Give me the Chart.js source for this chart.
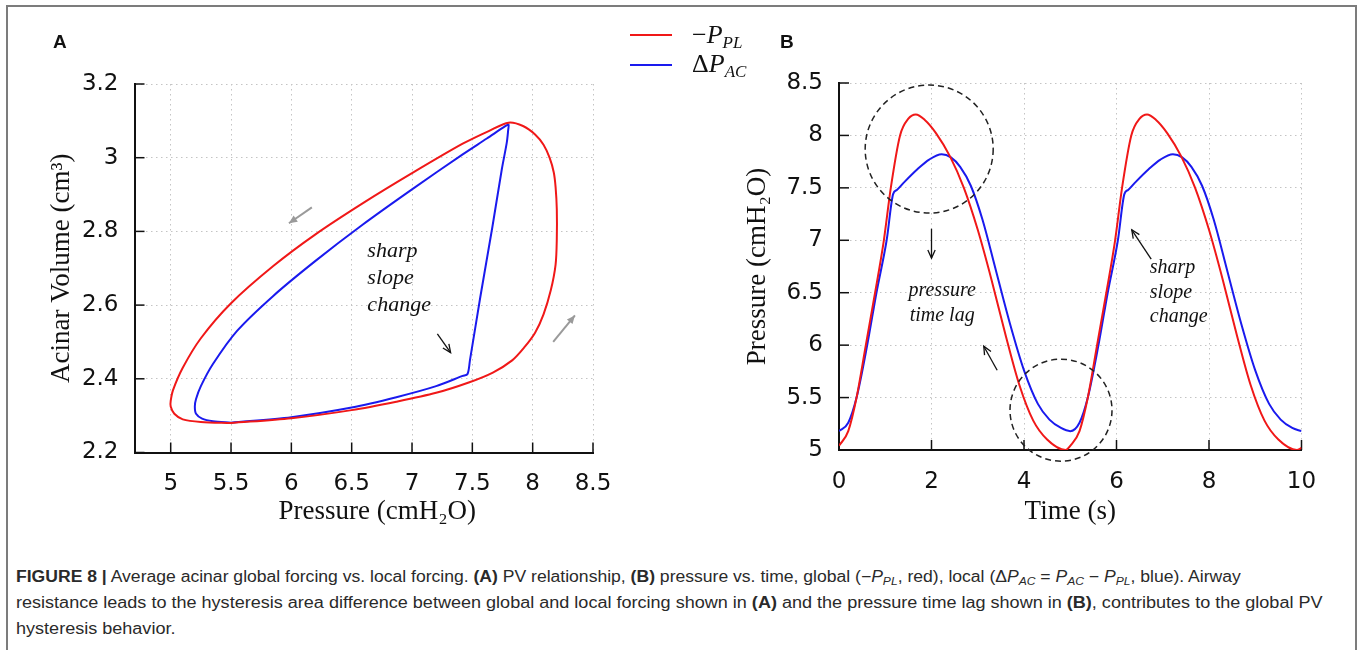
<!DOCTYPE html>
<html>
<head>
<meta charset="utf-8">
<script src="https://cdn.jsdelivr.net/npm/chart.js@4.4.1/dist/chart.umd.min.js"></script>
<style>
  html, body { margin: 0; padding: 0; background: #fff; }
  body { width: 1360px; height: 650px; position: relative; overflow: hidden; font-family: "Liberation Sans", Arial, sans-serif; }
  #frame { position: absolute; left: 6px; top: 5px; width: 1347px; height: 700px; border: 2px solid #7c7c7c; border-bottom: none; }
  canvas { position: absolute; top: 0; }
  #chartA { left: 0; }
  #chartB { left: 680px; }
  .panel { position: absolute; font-weight: bold; font-size: 19px; color: #111; line-height: 20px; }
  .swatch { position: absolute; width: 42px; height: 2px; }
  .leg { position: absolute; font-family: "Liberation Serif", serif; font-size: 26px; line-height: 30px; color: #111; white-space: nowrap; }
  .leg sub { font-size: 17px; vertical-align: -5px; }
  #caption { position: absolute; left: 16px; top: 564px; color: #2a2a2a; font-size: 16px; }
  #caption .cl { white-space: nowrap; line-height: 26px; height: 26px; transform-origin: 0 50%; }
  #caption sub { font-size: 11px; vertical-align: -3px; }
</style>
</head>
<body>
<div id="frame"></div>
<canvas id="chartA" width="680" height="540"></canvas>
<canvas id="chartB" width="680" height="540"></canvas>
<div class="panel" style="left:53px; top:32px;">A</div>
<div class="panel" style="left:780px; top:32px;">B</div>
<div class="swatch" style="left:630px; top:34px; background:#f01818;"></div>
<div class="swatch" style="left:630px; top:64px; background:#1a1aee;"></div>
<div class="leg" style="left:692px; top:20px;">−<i>P<sub>PL</sub></i></div>
<div class="leg" style="left:692px; top:49px;">Δ<i>P<sub>AC</sub></i></div>
<div id="caption">
  <div class="cl"><b>FIGURE 8 |</b> Average acinar global forcing vs. local forcing. <b>(A)</b> PV relationship, <b>(B)</b> pressure vs. time, global (−<i>P<sub>PL</sub></i>, red), local (Δ<i>P<sub>AC</sub></i> = <i>P<sub>AC</sub></i> − <i>P<sub>PL</sub></i>, blue). Airway</div>
  <div class="cl">resistance leads to the hysteresis area difference between global and local forcing shown in <b>(A)</b> and the pressure time lag shown in <b>(B)</b>, contributes to the global PV</div>
  <div class="cl">hysteresis behavior.</div>
</div>
<script>
// Panel A: PV loops (pressure vs acinar volume), traced from the bottom going round
const pvPressureGlobal = [5.5, 6.0, 6.5, 6.87, 7.2, 7.47, 7.67, 7.83, 7.93, 8.02, 8.09, 8.15, 8.19, 8.2, 8.2, 8.19, 8.175, 8.14, 8.09, 8.02, 7.92, 7.8, 7.64, 7.42, 7.0, 6.6, 6.2, 5.85, 5.5, 5.25, 5.1, 5.02, 5.0, 5.0, 5.03, 5.1, 5.25, 5.5];
const pvVolumeGlobal = [2.28, 2.293, 2.315, 2.338, 2.362, 2.39, 2.417, 2.45, 2.485, 2.525, 2.575, 2.64, 2.71, 2.78, 2.86, 2.92, 2.96, 3.0, 3.035, 3.063, 3.086, 3.095, 3.073, 3.038, 2.958, 2.878, 2.792, 2.706, 2.605, 2.51, 2.43, 2.37, 2.34, 2.325, 2.305, 2.29, 2.283, 2.28];
const pvPressureLocal = [5.5, 6.0, 6.5, 6.87, 7.2, 7.42, 7.46, 7.48, 7.565, 7.665, 7.745, 7.785, 7.797, 7.8, 7.77, 7.62, 7.42, 7.0, 6.59, 6.2, 5.85, 5.55, 5.35, 5.25, 5.21, 5.2, 5.21, 5.26, 5.35, 5.5];
const pvVolumeLocal = [2.281, 2.296, 2.322, 2.35, 2.38, 2.408, 2.413, 2.45, 2.62, 2.81, 2.97, 3.04, 3.075, 3.09, 3.085, 3.052, 3.009, 2.914, 2.818, 2.72, 2.625, 2.53, 2.44, 2.38, 2.345, 2.325, 2.305, 2.292, 2.285, 2.281];
const pvPressureTicks = [5, 5.5, 6, 6.5, 7, 7.5, 8, 8.5];
const pvVolumeTicks = [2.2, 2.4, 2.6, 2.8, 3, 3.2];

// Panel B: pressure vs time
const timeGlobal = [0, 0.2, 0.38, 0.58, 0.78, 0.97, 1.12, 1.32, 1.5, 1.66, 1.85, 2.1, 2.4, 2.7, 3.0, 3.3, 3.6, 3.9, 4.2, 4.5, 4.9, 5.0, 5.2, 5.38, 5.58, 5.78, 5.97, 6.12, 6.32, 6.5, 6.66, 6.85, 7.1, 7.4, 7.7, 8.0, 8.3, 8.6, 8.9, 9.2, 9.5, 9.9, 10];
const pressureGlobal = [5.04, 5.18, 5.5, 6.0, 6.5, 7.0, 7.5, 8.0, 8.16, 8.2, 8.15, 8.02, 7.8, 7.5, 7.1, 6.62, 6.1, 5.62, 5.28, 5.1, 5.0, 5.04, 5.18, 5.5, 6.0, 6.5, 7.0, 7.5, 8.0, 8.16, 8.2, 8.15, 8.02, 7.8, 7.5, 7.1, 6.62, 6.1, 5.62, 5.28, 5.1, 5.0, 5.02];
const timeLocal = [0, 0.2, 0.38, 0.61, 0.81, 1.03, 1.17, 1.25, 1.4, 1.7, 1.95, 2.22, 2.42, 2.62, 2.85, 3.1, 3.4, 3.7, 4.0, 4.3, 4.55, 4.8, 5.0, 5.2, 5.38, 5.61, 5.81, 6.03, 6.17, 6.25, 6.4, 6.7, 6.95, 7.22, 7.42, 7.62, 7.85, 8.1, 8.4, 8.7, 9.0, 9.3, 9.55, 9.8, 10];
const pressureLocal = [5.18, 5.26, 5.5, 6.0, 6.5, 7.0, 7.44, 7.48, 7.55, 7.68, 7.77, 7.82, 7.79, 7.7, 7.52, 7.2, 6.7, 6.2, 5.76, 5.44, 5.29, 5.21, 5.18, 5.26, 5.5, 6.0, 6.5, 7.0, 7.44, 7.48, 7.55, 7.68, 7.77, 7.82, 7.79, 7.7, 7.52, 7.2, 6.7, 6.2, 5.76, 5.44, 5.29, 5.21, 5.18];
const timeTicks = [0, 2, 4, 6, 8, 10];
const pressureTicks = [5, 5.5, 6, 6.5, 7, 7.5, 8, 8.5];

const seriesNames = ['−P_PL', 'ΔP_AC'];
const RED = '#f01818';
const BLUE = '#1a1aee';

function points(xs, ys) {
    return xs.map((v, i) => ({ x: v, y: ys[i] }));
}

function drawArrow(ctx, x1, y1, x2, y2, a) {
    const ang = Math.atan2(y2 - y1, x2 - x1);
    const h = a.head;
    ctx.strokeStyle = a.color;
    ctx.fillStyle = a.color;
    ctx.lineWidth = a.width;
    ctx.beginPath();
    ctx.moveTo(x1, y1);
    ctx.lineTo(x2, y2);
    ctx.stroke();
    ctx.beginPath();
    ctx.moveTo(x2 - h * Math.cos(ang - 0.42), y2 - h * Math.sin(ang - 0.42));
    ctx.lineTo(x2, y2);
    ctx.lineTo(x2 - h * Math.cos(ang + 0.42), y2 - h * Math.sin(ang + 0.42));
    if (a.filled) {
        ctx.closePath();
        ctx.fill();
    } else {
        ctx.stroke();
    }
}

// Inward tick marks, gnuplot style
const inwardTicks = {
    id: 'inwardTicks',
    beforeDatasetsDraw(chart) {
        const { ctx, chartArea, scales: { x, y } } = chart;
        ctx.save();
        ctx.strokeStyle = '#111';
        ctx.lineWidth = 1.5;
        x.ticks.forEach(t => {
            const px = x.getPixelForValue(t.value);
            ctx.beginPath();
            ctx.moveTo(px, chartArea.bottom);
            ctx.lineTo(px, chartArea.bottom - 10);
            ctx.stroke();
        });
        y.ticks.forEach(t => {
            const py = y.getPixelForValue(t.value);
            ctx.beginPath();
            ctx.moveTo(chartArea.left, py);
            ctx.lineTo(chartArea.left + 10, py);
            ctx.stroke();
        });
        ctx.restore();
    }
};

// Circles, arrows and italic notes
const notes = {
    id: 'notes',
    afterDatasetsDraw(chart, args, opts) {
        const { ctx, scales: { x, y } } = chart;
        const px = v => x.getPixelForValue(v);
        const py = v => y.getPixelForValue(v);
        ctx.save();
        (opts.circles || []).forEach(c => {
            ctx.beginPath();
            ctx.setLineDash([6, 4]);
            ctx.lineWidth = 1.5;
            ctx.strokeStyle = '#222';
            ctx.arc(px(c.x), py(c.y), c.r, 0, Math.PI * 2);
            ctx.stroke();
        });
        ctx.setLineDash([]);
        (opts.arrows || []).forEach(a => drawArrow(ctx, px(a.x1), py(a.y1), px(a.x2), py(a.y2), a));
        (opts.texts || []).forEach(t => {
            ctx.font = t.font;
            ctx.fillStyle = '#111';
            ctx.textAlign = t.align;
            ctx.textBaseline = 'middle';
            t.lines.forEach((s, i) => ctx.fillText(s, px(t.x), py(t.y) + i * t.lh));
        });
        ctx.restore();
    }
};

function scales(cfg) {
    const tickFont = { family: '"DejaVu Sans", sans-serif', size: 23 };
    const titleFont = { family: '"Liberation Serif", serif', size: 27 };
    const grid = { color: '#c4c4c4', lineWidth: 1, drawTicks: false };
    const border = { display: true, color: '#111', width: 2, dash: [1.5, 3.5] };
    return {
        x: {
            type: 'linear', min: cfg.xMin, max: cfg.xMax, bounds: 'data',
            grid, border,
            ticks: { font: tickFont, color: '#111', padding: cfg.xPad, maxRotation: 0, autoSkip: false, callback: v => String(v) },
            afterBuildTicks: s => { s.ticks = cfg.xTicks.map(v => ({ value: v })); },
            afterFit: s => { s.height = cfg.xHeight; },
            title: { display: true, text: cfg.xTitle, font: titleFont, color: '#111', padding: { top: 0, bottom: cfg.xTitlePad } }
        },
        y: {
            type: 'linear', min: cfg.yMin, max: cfg.yMax, bounds: 'data',
            grid, border,
            ticks: { font: tickFont, color: '#111', padding: cfg.yPad, autoSkip: false, callback: v => String(v) },
            afterBuildTicks: s => { s.ticks = cfg.yTicks.map(v => ({ value: v })); },
            afterFit: s => { s.width = cfg.yWidth; },
            title: { display: true, text: cfg.yTitle, font: titleFont, color: '#111', padding: { top: cfg.yTitlePad, bottom: 0 } }
        }
    };
}

Chart.defaults.font.family = '"DejaVu Sans", sans-serif';

new Chart(document.getElementById('chartA'), {
    type: 'scatter',
    data: {
        datasets: [
            { label: seriesNames[0], data: points(pvPressureGlobal, pvVolumeGlobal), borderColor: RED },
            { label: seriesNames[1], data: points(pvPressureLocal, pvVolumeLocal), borderColor: BLUE }
        ].map(d => ({ ...d, showLine: true, pointRadius: 0, borderWidth: 2, fill: false, tension: 0.3 }))
    },
    options: {
        responsive: false,
        animation: false,
        devicePixelRatio: 1,
        events: [],
        layout: { padding: { left: 0, top: 84, right: 87, bottom: 7.5 } },
        plugins: {
            legend: { display: false },
            tooltip: { enabled: false },
            notes: {
                circles: [],
                arrows: [
                    { x1: 6.17, y1: 2.865, x2: 5.98, y2: 2.822, color: '#9a9a9a', width: 2, head: 9, filled: true },
                    { x1: 8.17, y1: 2.5, x2: 8.35, y2: 2.572, color: '#9a9a9a', width: 2, head: 9, filled: true },
                    { x1: 7.21, y1: 2.522, x2: 7.32, y2: 2.471, color: '#111', width: 1.3, head: 9, filled: false }
                ],
                texts: [
                    { x: 6.63, y: 2.745, lines: ['sharp', 'slope', 'change'], lh: 26.7, align: 'left', font: 'italic 22px "Liberation Serif"' }
                ]
            }
        },
        scales: scales({
            xMin: 4.7, xMax: 8.5, xTicks: pvPressureTicks, xPad: 18, xHeight: 80, xTitle: '\u2003Pressure (cmH₂O)', xTitlePad: 4,
            yMin: 2.2, yMax: 3.2, yTicks: pvVolumeTicks, yPad: 16, yWidth: 134.5, yTitle: 'Acinar Volume (cm³)', yTitlePad: 46
        })
    },
    plugins: [inwardTicks, notes]
});

new Chart(document.getElementById('chartB'), {
    type: 'scatter',
    data: {
        datasets: [
            { label: seriesNames[0], data: points(timeGlobal, pressureGlobal), borderColor: RED },
            { label: seriesNames[1], data: points(timeLocal, pressureLocal), borderColor: BLUE }
        ].map(d => ({ ...d, showLine: true, pointRadius: 0, borderWidth: 2, fill: false, cubicInterpolationMode: 'monotone' }))
    },
    options: {
        responsive: false,
        animation: false,
        devicePixelRatio: 1,
        events: [],
        layout: { padding: { left: 0, top: 83, right: 58.5, bottom: 10 } },
        plugins: {
            legend: { display: false },
            tooltip: { enabled: false },
            notes: {
                circles: [
                    { x: 1.95, y: 7.87, r: 64 },
                    { x: 4.8, y: 5.38, r: 51 }
                ],
                arrows: [
                    { x1: 2.0, y1: 7.11, x2: 2.0, y2: 6.83, color: '#111', width: 1.3, head: 9, filled: false },
                    { x1: 3.42, y1: 5.76, x2: 3.13, y2: 5.99, color: '#111', width: 1.3, head: 9, filled: false },
                    { x1: 6.75, y1: 6.82, x2: 6.33, y2: 7.1, color: '#111', width: 1.3, head: 9, filled: false }
                ],
                texts: [
                    { x: 2.23, y: 6.516, lines: ['pressure', 'time lag'], lh: 25, align: 'center', font: 'italic 20px "Liberation Serif"' },
                    { x: 6.72, y: 6.736, lines: ['sharp', 'slope', 'change'], lh: 24.5, align: 'left', font: 'italic 20px "Liberation Serif"' }
                ]
            }
        },
        scales: scales({
            xMin: 0, xMax: 10, xTicks: timeTicks, xPad: 18, xHeight: 80, xTitle: 'Time (s)', xTitlePad: 2,
            yMin: 5, yMax: 8.5, yTicks: pressureTicks, yPad: 16, yWidth: 159, yTitle: 'Pressure (cmH₂O)', yTitlePad: 62
        })
    },
    plugins: [inwardTicks, notes]
});

// Caption lines are set in a condensed face in the original; squeeze to the measured widths
const captionWidths = [1272, 1307, 1307];
const captionLines = document.querySelectorAll('#caption .cl');
const squeeze = captionWidths[1] / captionLines[1].scrollWidth;
captionLines.forEach((el, i) => {
    const k = i < 2 ? captionWidths[i] / el.scrollWidth : squeeze;
    el.style.transform = `scaleX(${k})`;
});
</script>
</body>
</html>
